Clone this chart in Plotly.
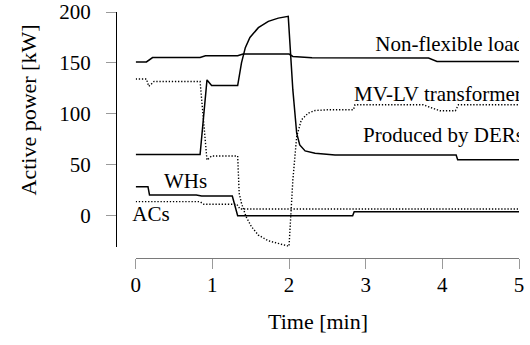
import plotly.graph_objects as go

# ---- data (time in min, power in kW) ----
load_t = [0, 0.14, 0.22, 0.84, 0.91, 1.33, 1.40, 2.00, 2.05, 2.30, 3.82, 3.93, 5]
load_p = [151, 151, 155.3, 155.3, 157, 157, 158.7, 158.7, 156.4, 155.2, 154.8, 151.5, 151.5]

der_t = [0, 0.84, 0.93, 0.99, 1.33, 1.36, 1.38, 1.43, 1.49, 1.60, 1.73, 1.86, 1.99,
         2.05, 2.10, 2.14, 2.21, 2.34, 2.6, 4.18, 4.20, 5]
der_p = [60, 60, 133.3, 127.8, 127.8, 140, 150, 165, 175, 184.6, 190.8, 194, 195.7,
         123.5, 81, 69.5, 63.6, 61.3, 59.7, 59.5, 55, 55]

trafo_t = [0, 0.14, 0.17, 0.24, 0.84, 0.93, 0.99, 1.33, 1.35, 1.38, 1.44, 1.51, 1.60,
           1.73, 1.86, 1.97, 2.00, 2.05, 2.10, 2.16, 2.25, 2.34, 2.5, 2.84, 2.86,
           3.75, 3.97, 4.17, 4.21, 5]
trafo_p = [134.2, 134.2, 127, 131.8, 131.8, 54.6, 58.7, 58.7, 22, 12.2, -1, -10.8, -19,
           -24.6, -27.2, -29.8, -30, 35, 77.7, 94, 100.7, 103.3, 104, 104, 108.9,
           108.9, 103, 103, 108.9, 108.9]

wh_t = [0, 0.16, 0.18, 0.79, 0.86, 1.26, 1.33, 2.83, 2.85, 5]
wh_p = [28.5, 28.5, 20.4, 20.4, 19.4, 19.4, 0, 0, 3.9, 3.9]

ac_t = [0, 0.84, 0.89, 1.32, 1.36, 5]
ac_p = [13.8, 13.8, 11.2, 11.2, 6.6, 6.6]

# labels at the right edge (centred so that they run past the clipped right border)
edge_labels = ["Non-flexible load", "MV-LV transformer", "Produced by DERs"]
edge_label_t = [4.095, 3.943, 4.015]
edge_label_p = [166.7, 118.2, 77.2]

inner_labels = ["WHs", "ACs"]
inner_label_t = [0.65, 0.2]
inner_label_p = [32.4, 0.2]

x_ticks = [0, 1, 2, 3, 4, 5]
y_ticks = [0, 50, 100, 150, 200]

FONT = "Liberation Serif, Times New Roman, serif"
solid = dict(color="black", width=1.5)
dotted = dict(color="black", width=1.4, dash="1.3px,1.8px")

fig = go.Figure()
fig.add_trace(go.Scatter(x=load_t, y=load_p, mode="lines", line=solid))
fig.add_trace(go.Scatter(x=der_t, y=der_p, mode="lines", line=solid))
fig.add_trace(go.Scatter(x=trafo_t, y=trafo_p, mode="lines", line=dotted))
fig.add_trace(go.Scatter(x=wh_t, y=wh_p, mode="lines", line=solid))
fig.add_trace(go.Scatter(x=ac_t, y=ac_p, mode="lines", line=dotted))

fig.add_trace(go.Scatter(x=edge_label_t, y=edge_label_p, mode="text", text=edge_labels,
                         textposition="middle center", cliponaxis=True,
                         textfont=dict(family=FONT, size=21, color="black")))
fig.add_trace(go.Scatter(x=inner_label_t, y=inner_label_p, mode="text", text=inner_labels,
                         textposition="middle center", cliponaxis=False,
                         textfont=dict(family=FONT, size=21, color="black")))

L, R, T, B = 116, 11, 12, 87
W, H = 530, 345
pw, ph = W - L - R, H - T - B

fig.update_layout(
    width=W, height=H,
    margin=dict(l=L, r=R, t=T, b=B, pad=0, autoexpand=False),
    paper_bgcolor="white", plot_bgcolor="white",
    showlegend=False,
    font=dict(family=FONT, size=21, color="black"),
    xaxis=dict(domain=[(135.7 - L) / pw, 1], range=[0, 5], anchor="free", position=0,
               tickvals=x_ticks, ticks="outside", ticklen=10, tickwidth=1, tickcolor="#9a9a9a",
               showline=True, linecolor="#7a7a7a", linewidth=1.3, automargin=False,
               showgrid=False, zeroline=False, ticklabelstandoff=-2,
               tickfont=dict(family=FONT, size=21, color="black")),
    yaxis=dict(domain=[(258 - 246.8) / ph, 1], range=[-30.5, 200], anchor="free", position=0,
               tickvals=y_ticks, ticks="outside", ticklen=10, tickwidth=1, tickcolor="#9a9a9a",
               showline=True, linecolor="black", linewidth=1.3, automargin=False,
               showgrid=False, zeroline=False, ticklabelstandoff=11,
               tickfont=dict(family=FONT, size=21, color="black")),
    annotations=[
        dict(text="Active power [kW]", xref="paper", yref="paper",
             x=(28 - L) / pw, y=(258 - 110.5) / ph, xanchor="center", yanchor="middle",
             textangle=-90, showarrow=False, font=dict(family=FONT, size=22, color="black")),
        dict(text="Time [min]", xref="paper", yref="paper",
             x=(318 - L) / pw, y=(258 - 321) / ph, xanchor="center", yanchor="middle",
             showarrow=False, font=dict(family=FONT, size=22, color="black")),
    ],
)

fig.write_html("out.html")
